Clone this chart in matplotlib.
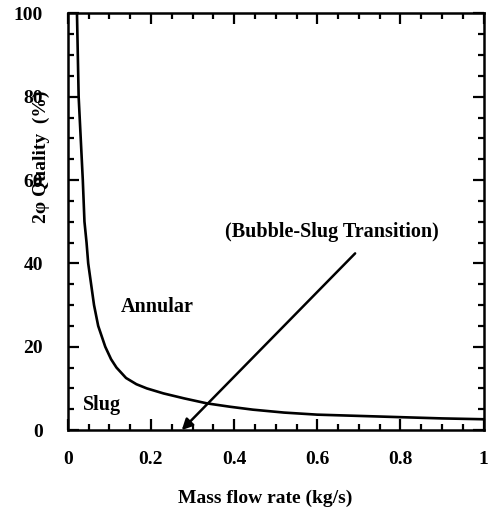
import matplotlib
matplotlib.use('Agg')
import matplotlib.pyplot as plt
from matplotlib.ticker import MultipleLocator

# boundary between slug and annular regimes
flow = [0.022, 0.024, 0.026, 0.031, 0.036, 0.040, 0.045, 0.049, 0.056, 0.063,
        0.073, 0.09, 0.104, 0.117, 0.14, 0.165, 0.19, 0.23, 0.28, 0.335,
        0.39, 0.445, 0.52, 0.6, 0.7, 0.8, 0.9, 1.0]
quality = [100, 90, 80, 70, 60, 50, 45, 40, 35, 30,
           25, 20, 17, 15, 12.5, 11, 10, 8.8, 7.6, 6.4,
           5.6, 4.9, 4.2, 3.7, 3.4, 3.1, 2.8, 2.6]

x_ticks = [0, 0.2, 0.4, 0.6, 0.8, 1]
x_ticklabels = ['0', '0.2', '0.4', '0.6', '0.8', '1']
y_ticks = [0, 20, 40, 60, 80, 100]

plt.rcParams['font.family'] = ['Liberation Serif', 'DejaVu Serif']
plt.rcParams['font.weight'] = 'bold'

fig = plt.figure(figsize=(4.88, 5.12), dpi=100)
ax = fig.add_axes([0.139, 0.160, 0.852, 0.814])

ax.plot(flow, quality, color='black', lw=1.9, solid_joinstyle='round')

ax.annotate('', xy=(0.274, 0), xytext=(0.691, 42.4),
            arrowprops=dict(arrowstyle='-|>', color='black', lw=1.8,
                            mutation_scale=16, shrinkA=0, shrinkB=0))
ax.text(0.635, 47.5, '(Bubble-Slug Transition)', ha='center', va='center',
        fontsize=14.5, fontweight='bold')
ax.text(0.127, 29.5, 'Annular', ha='left', va='center', fontsize=14.5, fontweight='bold')
ax.text(0.036, 6, 'Slug', ha='left', va='center', fontsize=14.5, fontweight='bold')

ax.set_xlim(0, 1)
ax.set_ylim(0, 100)
ax.set_xticks(x_ticks)
ax.set_xticklabels(x_ticklabels)
ax.set_yticks(y_ticks)
ax.xaxis.set_minor_locator(MultipleLocator(0.05))
ax.yaxis.set_minor_locator(MultipleLocator(5))
ax.tick_params(which='both', direction='in', top=True, right=True, width=1.6)
ax.tick_params(which='major', length=8)
ax.tick_params(which='minor', length=4)
ax.tick_params(axis='x', which='major', pad=15, labelsize=14)
ax.tick_params(axis='y', which='major', pad=18, labelsize=14)
for s in ax.spines.values():
    s.set_linewidth(1.8)

ax.set_xlabel('Mass flow rate (kg/s)', fontsize=14, fontweight='bold')
ax.xaxis.set_label_coords(0.474, -0.142)
ax.set_ylabel('2\u03c6 Quality  (%)', fontsize=14, fontweight='bold')
ax.yaxis.set_label_coords(-0.043, 0.657)

fig.savefig('out.png', dpi=100)
